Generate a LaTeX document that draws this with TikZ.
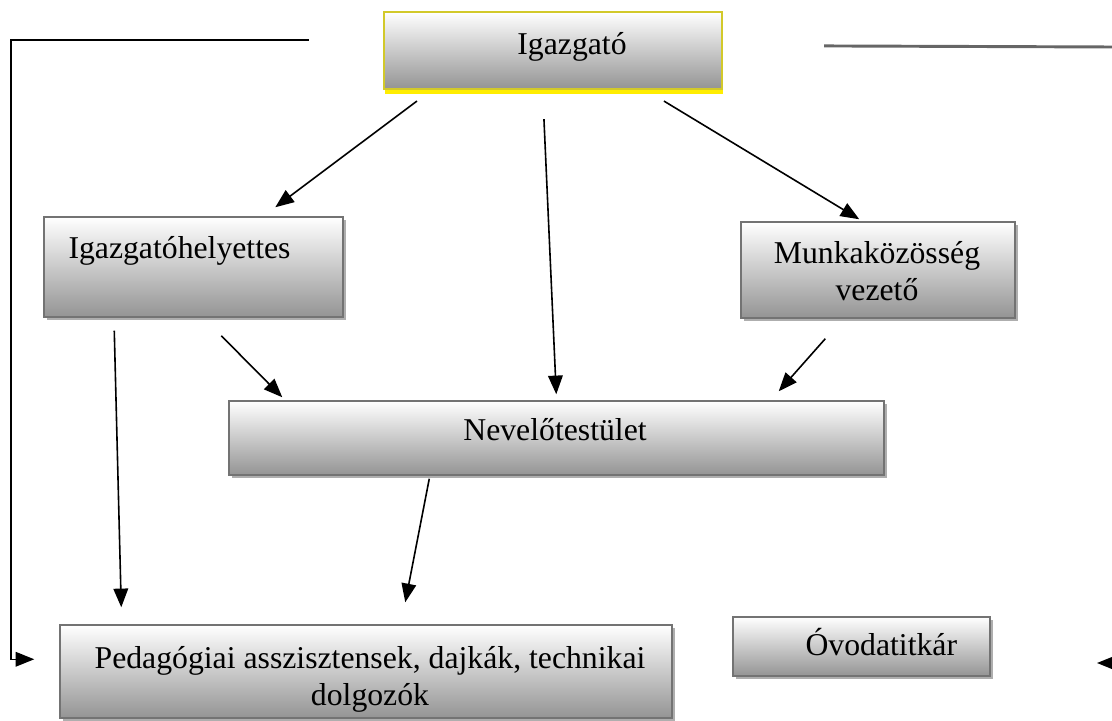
\documentclass[tikz,border=0pt]{standalone}
\usepackage{fontspec}
\setmainfont{Liberation Serif}
\usetikzlibrary{arrows.meta,calc,fit,shadows}

\tikzset{every picture/.style={line width=0.75pt}}
\tikzset{
  box/.style={draw=black!55, line width=1.1pt, top color=white, bottom color=black!42, inner sep=0pt,
    drop shadow={shadow xshift=2pt, shadow yshift=-2pt, fill=black!45, opacity=0.7}},
  chief/.style={draw=yellow!80!black, line width=1.6pt, top color=white, bottom color=black!42, inner sep=0pt,
    drop shadow={shadow xshift=1pt, shadow yshift=-4pt, fill=yellow!95!orange, opacity=1}},
  arr/.style={line width=1.2pt, -{Triangle[length=14pt,width=11pt]}},
  lbl/.style={inner sep=0pt, font=\fontsize{23.8}{27.6}\selectfont, align=center},
}

\begin{document}
\begin{tikzpicture}[x=0.75pt,y=0.75pt,yscale=-1,xscale=1]
    \useasboundingbox (0,0) rectangle (1112,720);

    %Shape: Rectangle [igazgato]
    \node [chief, fit={(384,12) (722,89)}] (igazgato) {};
    %Shape: Rectangle [helyettes]
    \node [box, fit={(44,217) (343,317)}] (helyettes) {};
    %Shape: Rectangle [mkvezeto]
    \node [box, fit={(741,222) (1015,318)}] (mkvezeto) {};
    %Shape: Rectangle [testulet]
    \node [box, fit={(229,401) (884,475)}] (testulet) {};
    %Shape: Rectangle [dolgozok]
    \node [box, fit={(60,625) (672,718)}] (dolgozok) {};
    %Shape: Rectangle [titkar]
    \node [box, fit={(733,617) (990,676)}] (titkar) {};

    %Straight Lines
    \draw [arr] ($(igazgato.south west)+(34,11)$) -- ($(helyettes.north west)+(232,-9)$);
    \draw [arr] ($(igazgato.south west)+(161,29)$) -- ($(testulet.north west)+(328,-6)$);
    \draw [arr] ($(igazgato.south west)+(281,11)$) -- ($(mkvezeto.north west)+(119,-2)$);
    \draw [arr] ($(helyettes.south west)+(71,13)$) -- ($(dolgozok.north west)+(62,-17)$);
    \draw [arr] ($(helyettes.south west)+(178,18)$) -- ($(testulet.north west)+(54,-3)$);
    \draw [arr] ($(mkvezeto.south west)+(85,20)$) -- ($(testulet.north east)+(-106,-9)$);
    \draw [arr] ($(testulet.south west)+(201,3)$) -- ($(dolgozok.north west)+(346,-22)$);

    %Frame lines
    \draw [arr, line width=1pt] ($(igazgato.north west)+(-74,29)$) -- ++(-298,0) |- ($(dolgozok.north west)+(-25,35)$);
    \coordinate (redge) at (1112,47);
    \draw [black!60, line width=2.2pt] ($(igazgato.north east)+(101,35)$) -- (redge);
    \coordinate (bredge) at (1112,663);
    \draw [arr] (bredge) -- ++(-15,0);

    % Text Node
    \node [lbl, anchor=base] (igazgatotxt) at (572,55) {Igazgató};
    % Text Node
    \node [lbl, anchor=base west] (helyettestxt) at (68,258) {Igazgatóhelyettes};
    % Text Node
    \node [lbl, anchor=base] (mkvezetotxt) at (877,300) {Munkaközösség\\vezető};
    % Text Node
    \node [lbl, anchor=base] (testulettxt) at (555,440) {Nevelőtestület};
    % Text Node
    \node [lbl, anchor=base] (dolgozoktxt) at (370,705) {Pedagógiai asszisztensek, dajkák, technikai\\dolgozók};
    % Text Node
    \node [lbl, anchor=base west] (titkartxt) at (805,655) {Óvodatitkár};
\end{tikzpicture}
\end{document}
